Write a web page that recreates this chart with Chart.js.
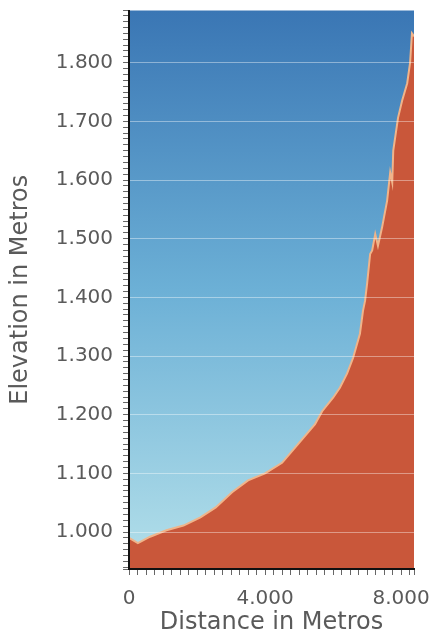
<!DOCTYPE html>
<html>
<head>
<meta charset="utf-8">
<script src="https://cdn.jsdelivr.net/npm/chart.js@4"></script>
<style>
  body { margin: 0; background: #fff; }
  #wrap { width: 430px; height: 636px; }
</style>
</head>
<body>
<div id="wrap"><canvas id="profileChart"></canvas></div>
<script>
// ------------------ Data ------------------

const distances  = [0, 260, 620, 1100, 1600, 2100, 2550, 3030, 3500, 4000, 4500, 4970, 5470, 5680, 6000, 6200, 6410, 6590, 6790, 6880, 6940, 7000, 7090, 7150, 7240, 7320, 7440, 7590, 7680, 7740, 7770, 7910, 8030, 8180, 8265, 8320, 8380];
const elevations = [990, 981, 992, 1003, 1011, 1025, 1042, 1068, 1088, 1100, 1118, 1150, 1184, 1206, 1229, 1246, 1270, 1297, 1338, 1377, 1394, 1423, 1474, 1480, 1508, 1488, 1519, 1565, 1613, 1596, 1650, 1706, 1735, 1765, 1800, 1850, 1845];

const xLabelTicks = [0, 4000, 8000];
const yLabelTicks = [1000, 1100, 1200, 1300, 1400, 1500, 1600, 1700, 1800];

const grey = '#5a5a5a';
const font = 'DejaVu Sans';

function fmt(v) {
  return String(v).replace(/\B(?=(\d{3})+(?!\d))/g, '.');
}

// unlabeled minor ticks get a tiny font so they add no padding
function tickFont(list) {
  return ctx => {
    const on = ctx.tick && list.includes(ctx.tick.value);
    return { family: font, size: on ? 20 : 1, lineHeight: 1 };
  };
}

// sky gradient behind the profile
const skyPlugin = {
  id: 'sky',
  beforeDraw(chart) {
    const { ctx, chartArea: a } = chart;
    if (!a) return;
    const g = ctx.createLinearGradient(0, a.top, 0, a.bottom);
    g.addColorStop(0, '#3a76b4');
    g.addColorStop(0.5, '#6cb0d6');
    g.addColorStop(1, '#b4e0ea');
    ctx.save();
    ctx.fillStyle = g;
    ctx.fillRect(a.left, a.top, a.right - a.left, a.bottom - a.top);
    ctx.restore();
  }
};

const points = distances.map((d, i) => ({ x: d, y: elevations[i] }));

new Chart(document.getElementById('profileChart'), {
  type: 'line',
  data: {
    datasets: [{
      data: points,
      borderColor: '#f0b48a',
      borderWidth: 2,
      backgroundColor: '#c9573a',
      fill: 'start',
      pointRadius: 0,
      tension: 0
    }]
  },
  options: {
    responsive: true,
    maintainAspectRatio: false,
    animation: false,
    layout: { padding: { top: 4, right: 16, left: 0, bottom: 0 } },
    plugins: { legend: { display: false }, tooltip: { enabled: false } },
    scales: {
      x: {
        type: 'linear',
        min: 0,
        max: 8380,
        border: { display: true, color: '#111', width: 2, z: 2 },
        grid: { drawOnChartArea: false, drawTicks: true, tickLength: 6, tickColor: '#666' },
        ticks: {
          stepSize: 250,
          autoSkip: false,
          maxRotation: 0,
          padding: 14,
          color: grey,
          font: tickFont(xLabelTicks),
          callback: v => xLabelTicks.includes(v) ? fmt(v) : ''
        },
        title: {
          display: true,
          text: 'Distance in Metros',
          color: grey,
          font: { family: font, size: 24, lineHeight: 1 },
          padding: { top: -12, bottom: 1 }
        }
      },
      y: {
        min: 937,
        max: 1889,
        border: { display: true, color: '#111', width: 2, z: 2 },
        grid: {
          z: 1,
          drawTicks: true,
          tickLength: 6,
          tickColor: '#666',
          color: ctx => ctx.tick && yLabelTicks.includes(ctx.tick.value) ? 'rgba(255,255,255,0.4)' : 'rgba(0,0,0,0)'
        },
        ticks: {
          stepSize: 10,
          autoSkip: false,
          padding: 10,
          color: grey,
          font: tickFont(yLabelTicks),
          callback: v => yLabelTicks.includes(v) ? fmt(v) : ''
        },
        title: {
          display: true,
          text: 'Elevation in Metros',
          color: grey,
          font: { family: font, size: 24 },
          padding: { top: 6, bottom: 11 }
        }
      }
    }
  },
  plugins: [skyPlugin]
});
</script>
</body>
</html>
